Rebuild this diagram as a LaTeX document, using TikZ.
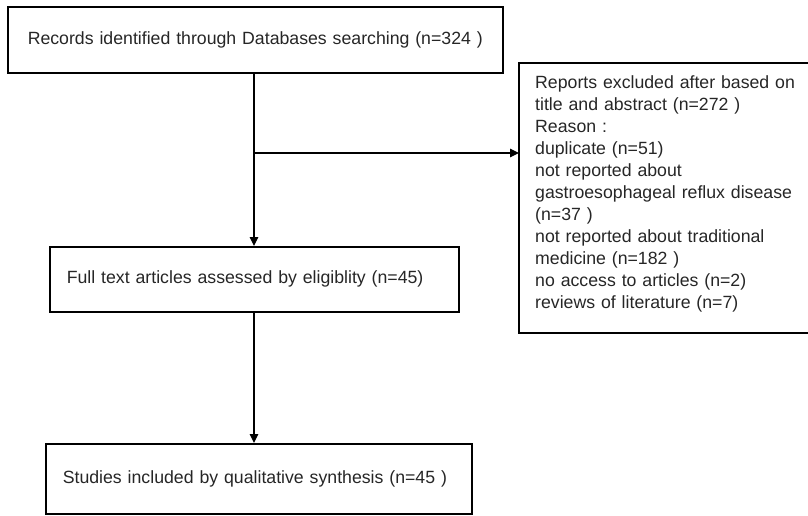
\documentclass[tikz,border=0pt]{standalone}
\usepackage{fontspec}
\setmainfont{Liberation Sans}
\usetikzlibrary{arrows.meta,calc}
\begin{document}
\begin{tikzpicture}[x=1pt,y=-1pt,
  box/.style={draw=black, line width=1.6pt, align=left, inner ysep=0pt,
    font=\fontsize{17.7}{22}\selectfont, text=black!85},
  conn/.style={draw=black, line width=1.1pt},
  arr/.style={conn, -{Triangle[length=9pt,width=8.5pt]}}]
\useasboundingbox (0,0) rectangle (808,515);
\node[box, anchor=north west, inner xsep=17.5pt, align=center, text width=460pt, minimum height=66pt] (b1) at (7,6)
  {Records identified through Databases searching (n=324 )};
\node[box, anchor=north west, inner xsep=17pt, text width=375pt, minimum height=65pt] (b2) at (49,246)
  {Full text articles assessed by eligiblity (n=45)};
\node[box, anchor=north west, inner xsep=17pt, text width=392pt, minimum height=70pt] (b3) at (45,443)
  {Studies included by qualitative synthesis (n=45 )};
\coordinate (rtl) at (519,63);
\coordinate (rbl) at (519,333);
\coordinate (rtr) at (810,63);
\coordinate (rbr) at (810,333);
\node[anchor=north west, inner xsep=16pt, inner ysep=12pt, text width=270pt, align=left,
  font=\fontsize{17.7}{22}\selectfont, text=black!85] (rep) at (rtl)
  {Reports excluded after based on\\
   title and abstract (n=272 )\\
   Reason :\\
   duplicate (n=51)\\
   not reported about\\
   gastroesophageal reflux disease\\
   (n=37 )\\
   not reported about traditional\\
   medicine (n=182 )\\
   no access to articles (n=2)\\
   reviews of literature (n=7)};
\draw[line width=1.6pt] (rtr) -- (rtl) -- (rbl) -- (rbr);
\coordinate (br) at (254,153);
\draw[arr] (b1.south -| br) -- (br |- b2.north);
\draw[arr] (br) -- (br -| rtl);
\draw[arr] (b2.south -| br) -- (br |- b3.north);
\end{tikzpicture}
\end{document}
